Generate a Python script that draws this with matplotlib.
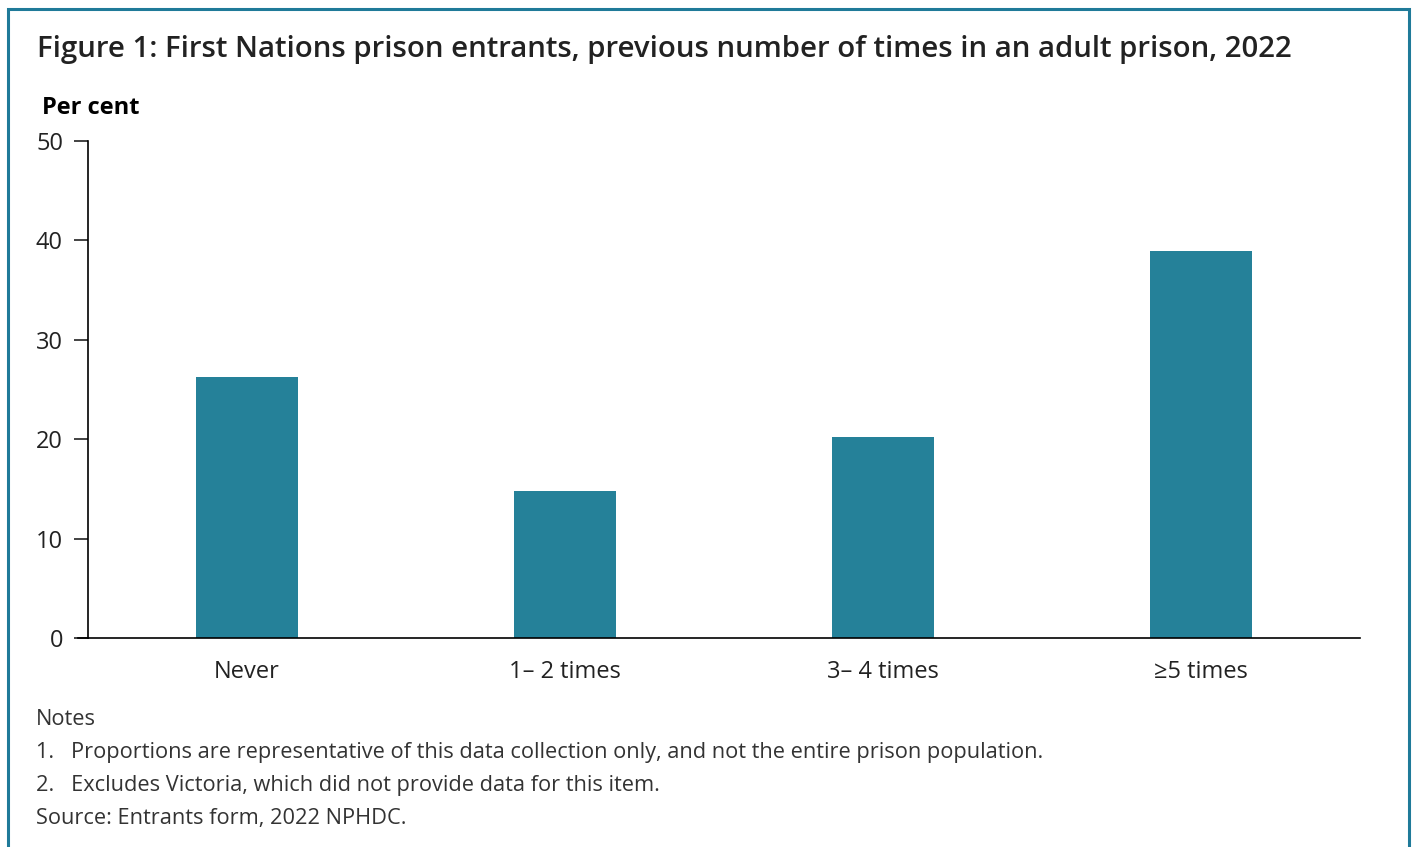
import matplotlib
matplotlib.use("Agg")
import matplotlib.pyplot as plt
from matplotlib.patches import Rectangle

plt.rcParams["font.family"] = ["Open Sans", "DejaVu Sans"]

# 数据
categories = ["Never", "1\u2013 2 times", "3\u2013 4 times", "\u22655 times"]
per_cent = [26.3, 14.8, 20.2, 38.9]

title = "Figure 1: First Nations prison entrants, previous number of times in an adult prison, 2022"
notes = [
    "Notes",
    "1.   Proportions are representative of this data collection only, and not the entire prison population.",
    "2.   Excludes Victoria, which did not provide data for this item.",
    "Source: Entrants form, 2022 NPHDC.",
]

BAR_COLOR = "#258199"
FRAME_COLOR = "#1f7a99"
TEXT_COLOR = "#222222"

W, H = 1413, 847
fig = plt.figure(figsize=(W / 100, H / 100), dpi=100)

# 外框
fig.patches.append(Rectangle((8 / W, -0.05), (1409 - 8) / W, (H - 9) / H + 0.05,
                             transform=fig.transFigure, fill=False,
                             edgecolor=FRAME_COLOR, linewidth=2.2))

ax = fig.add_axes([88 / W, 1 - 638 / H, (1360 - 88) / W, (638 - 141) / H])
x = range(len(categories))
ax.bar(x, per_cent, width=0.318, color=BAR_COLOR)

ax.set_xlim(-0.5, len(categories) - 0.5)
ax.set_ylim(0, 50)
ax.set_yticks(range(0, 51, 10))
ax.set_xticks(list(x))
ax.set_xticklabels(categories)

for s in ["top", "right"]:
    ax.spines[s].set_visible(False)
ax.spines["left"].set_linewidth(1.2)
ax.spines["bottom"].set_linewidth(1.2)
ax.tick_params(axis="y", length=10, width=1.2, labelsize=17, colors=TEXT_COLOR, pad=8)
ax.tick_params(axis="x", length=0, labelsize=17, colors=TEXT_COLOR, pad=16)
ax.plot([-0.5 - 10 / 318, -0.5], [0, 0], color="black", lw=1.2, clip_on=False)

fig.text(37 / W, 1 - 49 / H, title, fontsize=21.2, fontweight="semibold",
         color=TEXT_COLOR, va="center")
fig.text(42 / W, 1 - 108 / H, "Per cent", fontsize=17, fontweight="bold",
         color="black", va="center")

note_y = [719, 752, 785, 818]
for t, yy in zip(notes, note_y):
    fig.text(36 / W, 1 - yy / H, t, fontsize=15.7, color="#333333", va="center")

fig.savefig("out.png", dpi=100, facecolor="white")
